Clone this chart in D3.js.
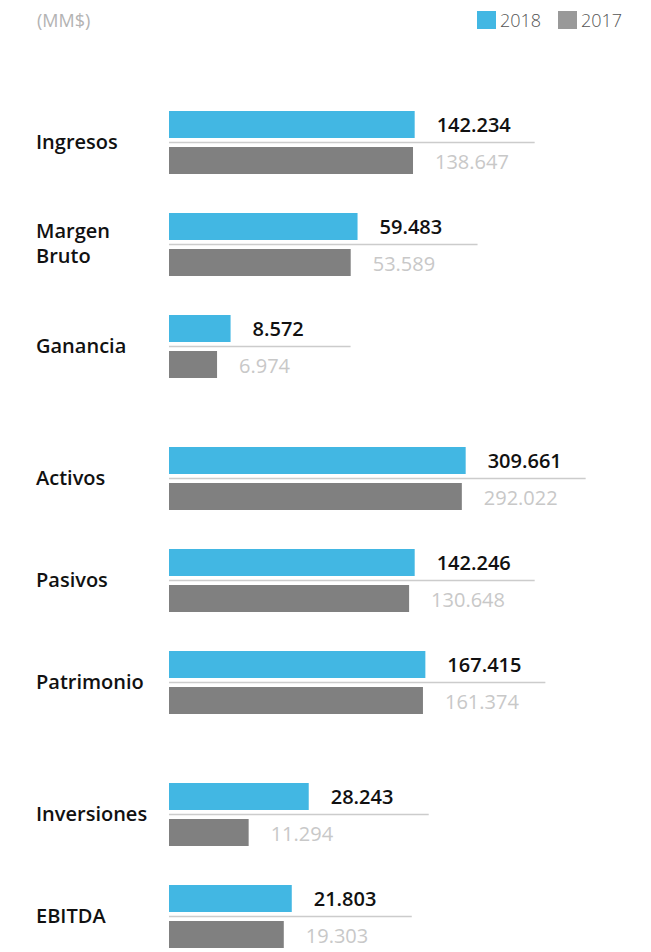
<!DOCTYPE html>
<html>
<head>
<meta charset="utf-8">
<script src="https://cdn.jsdelivr.net/npm/d3@7"></script>
<style>
  body { margin: 0; background: #fff; }
  svg { display: block; font-family: 'Open Sans', sans-serif; }
</style>
</head>
<body>
<svg></svg>
<script>
let categories = ['Ingresos', 'Margen Bruto', 'Ganancia', 'Activos', 'Pasivos', 'Patrimonio', 'Inversiones', 'EBITDA']
let groups = [0, 0, 0, 1, 1, 1, 2, 2]
let values2018 = [142234, 59483, 8572, 309661, 142246, 167415, 28243, 21803]
let values2017 = [138647, 53589, 6974, 292022, 130648, 161374, 11294, 19303]
let years = ['2018', '2017']

let w = 651
let h = 952
let rowStep = 102
let groupGap = 30
let topY = 111
let barH = 27

let blue = '#42b7e3'
let grey = '#808080'

let svg = d3.select('svg')
let xScale
let yScale

let esFormat = d3.formatLocale({ decimal: ',', thousands: '.', grouping: [3], currency: ['$', ''] }).format(',d')

let dataset = categories.map((c, i) => {
   return { name: c, group: groups[i], v18: values2018[i], v17: values2017[i], idx: i }
})

let drawCanvas = () => {
   svg.attr('width', w)
   svg.attr('height', h)
}

let generateScales = () => {
   // bars are drawn on a log scale
   xScale = d3.scaleLog()
               .domain([3350, 316000])
               .range([169, 467])
   yScale = d3.scaleLinear()
               .domain([0, 1])
               .range([topY, topY + rowStep])
}

let rowY = (d) => yScale(d.idx) + d.group * groupGap

let drawRows = () => {
   let x0 = xScale(3350)
   let rows = svg.selectAll('g.row')
      .data(dataset)
      .enter()
      .append('g')
      .attr('class', 'row')
      .attr('transform', (d) => 'translate(0,' + rowY(d) + ')')

   rows.append('line')
      .attr('x1', x0)
      .attr('x2', (d) => xScale(d.v18) + 120)
      .attr('y1', barH + 4.5)
      .attr('y2', barH + 4.5)
      .attr('stroke', '#cccccc')
      .attr('stroke-width', 1.5)

   rows.append('rect')
      .attr('x', x0)
      .attr('y', 0)
      .attr('width', (d) => xScale(d.v18) - x0)
      .attr('height', barH)
      .attr('fill', blue)

   rows.append('rect')
      .attr('x', x0)
      .attr('y', barH + 9)
      .attr('width', (d) => xScale(d.v17) - x0)
      .attr('height', barH)
      .attr('fill', grey)

   rows.append('text')
      .attr('x', (d) => xScale(d.v18) + 22)
      .attr('y', barH / 2)
      .attr('dy', '0.35em')
      .attr('font-size', 20)
      .attr('font-weight', 550)
      .attr('fill', '#111')
      .text((d) => esFormat(d.v18))

   rows.append('text')
      .attr('x', (d) => xScale(d.v17) + 22)
      .attr('y', barH + 9 + barH / 2 + 1)
      .attr('dy', '0.35em')
      .attr('font-size', 20)
      .attr('font-weight', 500)
      .attr('fill', '#c8c8c8')
      .text((d) => esFormat(d.v17))

   let labels = rows.append('text')
      .attr('x', 36)
      .attr('y', barH + 3.5)
      .attr('font-size', 20)
      .attr('font-weight', 550)
      .attr('fill', '#111')

   labels.each(function (d) {
      let parts = d.name === 'Margen Bruto' ? ['Margen', 'Bruto'] : [d.name]
      d3.select(this).selectAll('tspan')
         .data(parts)
         .enter()
         .append('tspan')
         .attr('x', 36)
         .attr('dy', (p, j) => j === 0 ? (0.35 - (parts.length - 1) * 0.62) + 'em' : '1.24em')
         .text((p) => p)
   })
}

let drawLegend = () => {
   svg.append('text')
      .attr('x', 37)
      .attr('y', 21)
      .attr('dy', '0.35em')
      .attr('font-size', 18)
      .attr('fill', '#b3b3b3')
      .text('(MM$)')

   let legend = svg.selectAll('g.legend')
      .data(years)
      .enter()
      .append('g')
      .attr('class', 'legend')
      .attr('transform', (d, i) => 'translate(' + (477 + i * 81) + ',11)')

   legend.append('rect')
      .attr('width', 19)
      .attr('height', 18)
      .attr('fill', (d, i) => i === 0 ? blue : '#999999')

   legend.append('text')
      .attr('x', 23)
      .attr('y', 9.5)
      .attr('dy', '0.35em')
      .attr('font-size', 18)
      .attr('font-weight', 300)
      .attr('fill', '#555')
      .text((d) => d)
}

drawCanvas()
generateScales()
drawRows()
drawLegend()
</script>
</body>
</html>
